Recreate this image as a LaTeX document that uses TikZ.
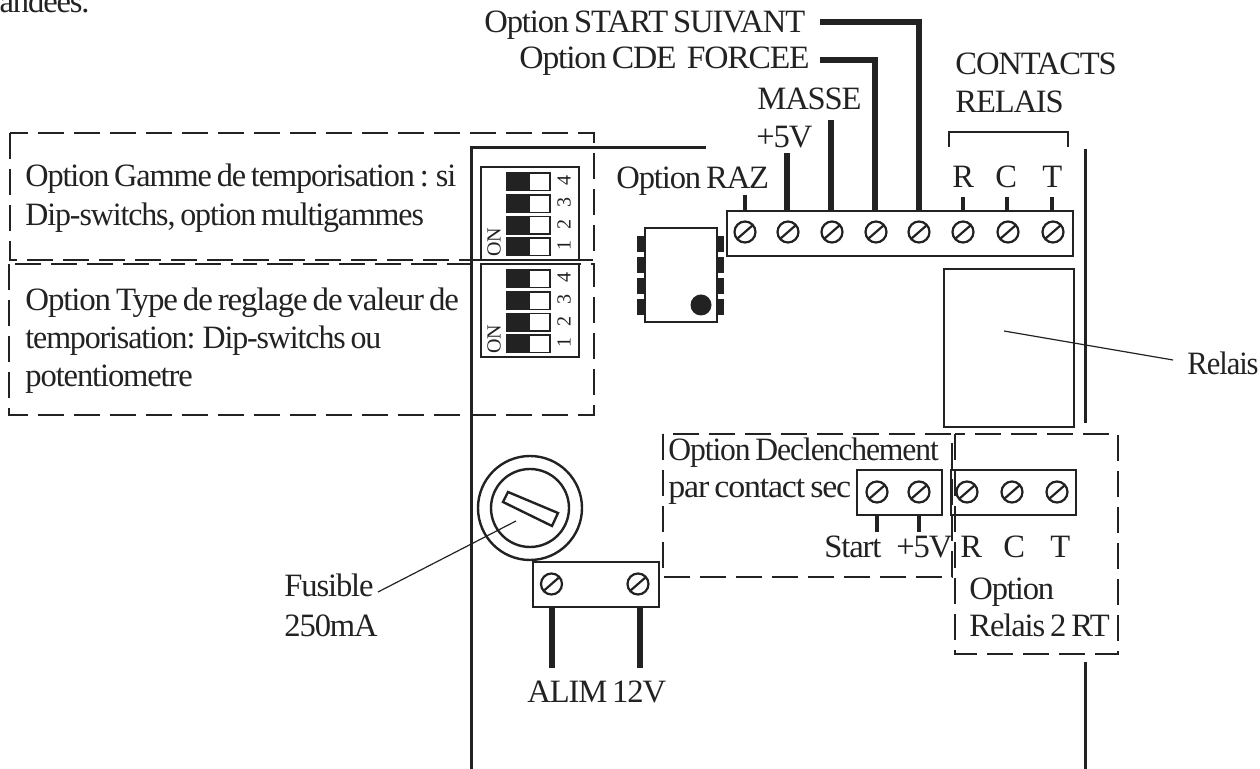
\documentclass[tikz,border=0pt]{standalone}
\usepackage{fontspec}
\setmainfont[LetterSpace=-3.5,WordSpace=0.7]{Liberation Serif}
\usepackage{xcolor}
\usetikzlibrary{positioning,calc}

\definecolor{inkc}{HTML}{222222}
\tikzset{
    lab/.style={anchor=base west,inner sep=0pt,text=inkc,font=\fontsize{16.3}{18}\selectfont},
    tiny/.style={inner sep=0pt,text=inkc,rotate=90,font=\fontsize{10}{12}\selectfont},
    board/.style={draw=inkc,line width=1.5pt},
    box/.style={draw=inkc,line width=1.2pt},
    wire/.style={draw=inkc,line width=2.6pt},
    stub/.style={draw=inkc,line width=2.4pt},
    lead/.style={draw=inkc,line width=0.6pt},
    optbox/.style={draw=inkc,line width=0.6pt,dash pattern=on 13pt off 5pt},
    screw/.style={draw=inkc,line width=1.1pt}
}
\newcommand{\vis}[2]{%
    \draw[screw] (#1,#2) circle (10.5);
    \draw[screw] ($(#1,#2)+(-8,7)$) -- ($(#1,#2)+(8,-7)$);
}

\begin{document}
\begin{tikzpicture}[x=0.5pt,y=-0.5pt]
    \useasboundingbox (0,0) rectangle (1260,769);

    % Board outline
    \draw[board] (471,769) -- (471,148) -- (706,148);
    \draw[board] (1085,149) -- (1085,423);
    \draw[board] (1085,662) -- (1085,769);

    % Option boxes
    \draw[optbox] (10,133) rectangle (594,260);
    \draw[optbox] (9,264) rectangle (594,415);
    \draw[optbox] (663,434) rectangle (952,577);
    \draw[optbox] (955,434) rectangle (1118,654);

    % Dip switches
    \foreach \oy in {0,97} {
        \draw[box] (481,167+\oy) rectangle (579,260+\oy);
        \foreach \sy/\num in {173/4,195/3,216.5/2,238/1} {
            \fill[inkc] (507,\sy+\oy) rectangle (530,\sy+17.5+\oy);
            \draw[inkc,line width=0.9pt] (507,\sy+\oy) rectangle (550,\sy+17.5+\oy);
            \node[tiny] (dip\num-\oy) at (564,\sy+8+\oy) {\num};
        }
        \node[tiny] (on-\oy) at (494,242+\oy) {ON};
    }

    % Circuit with pins
    \draw[box] (645,228) rectangle (717,322);
    \foreach \py in {236,257,278,299} {
        \fill[inkc] (637,\py) rectangle (645,\py+16);
        \fill[inkc] (717,\py) rectangle (724,\py+16);
    }
    \fill[inkc] (701,305) circle (10.5);

    % Main terminal strip
    \draw[box] (727,211) rectangle (1073,256);
    \foreach \x in {745,788,832,876,919,963,1008,1053} {
        \vis{\x}{232}
    }
    \draw[stub] (745,195) -- (745,211);
    \draw[wire] (787,153) -- (787,211);
    \draw[wire] (831,120) -- (831,211);
    \draw[wire] (820,60) -- (875,60) -- (875,211);
    \draw[wire] (820,22) -- (919,22) -- (919,211);
    \draw[stub] (963,197) -- (963,211);
    \draw[stub] (1007,197) -- (1007,211);
    \draw[stub] (1052,197) -- (1052,211);

    % Contacts bracket
    \draw[inkc,line width=1pt] (949,147) -- (949,132) -- (1068,132) -- (1068,147);

    % Relay
    \draw[box] (944,269) rectangle (1074,427);
    \draw[lead] (1004,331) -- (1173,360);

    % Fuse
    \draw[box] (530,508) circle (52);
    \draw[box] (530,508) circle (39);
    \draw[box] (508,492) -- (558,513) -- (552,526) -- (503,502) -- cycle;
    \draw[lead] (516,521) -- (378,592);

    % Power terminal
    \draw[box] (533,562) rectangle (659,607);
    \vis{551.5}{584}
    \vis{638}{584}
    \draw[wire] (552,607) -- (552,668);
    \draw[wire] (640,607) -- (640,668);

    % Start terminal
    \draw[box] (857,470) rectangle (942,515);
    \vis{877}{492}
    \vis{919}{492}
    \draw[stub] (877,515) -- (877,532);
    \draw[stub] (919,515) -- (919,532);

    % Second relay terminal
    \draw[box] (951,470) rectangle (1076,515);
    \foreach \x in {967,1012,1057} {
        \vis{\x}{492}
    }

    % Labels
    \node[lab,anchor=base east] (cut) at (90,13) {mandees.};
    \node[lab] (start) at (484,33) {Option START SUIVANT};
    \node[lab,xscale=1.03] (cde) at (519,69) {Option CDE~ FORCEE};
    \node[lab] (masse) at (757,110) {MASSE};
    \node[lab] (plus) at (756,148) {+5V};
    \node[lab] (raz) at (616,189) {Option RAZ};
    \node[lab] (contacts) at (955,75) {CONTACTS};
    \node[lab] (relais) at (955,113) {RELAIS};
    \node[lab] (r) at (952,188) {R};
    \node[lab] (c) at (995,188) {C};
    \node[lab] (t) at (1042,188) {T};
    \node[lab,xscale=0.99] (gam) at (25,187) {Option Gamme de temporisation : si};
    \node[lab,xscale=0.98] (gamb) at (25,226) {Dip-switchs, option multigammes};
    \node[lab,xscale=1.01] (typ) at (25,311) {Option Type de reglage de valeur de};
    \node[lab,xscale=0.98] (typb) at (25,349) {temporisation: Dip-switchs ou};
    \node[lab] (typc) at (25,387) {potentiometre};
    \node[lab,xscale=0.94] (rel) at (1187,375) {Relais};
    \node[lab,xscale=0.97] (decl) at (668,461) {Option Declenchement};
    \node[lab,xscale=1.04] (par) at (668,498) {par contact sec};
    \node[lab] (st) at (824,558) {Start};
    \node[lab] (pl) at (896,558) {+5V};
    \node[lab] (rb) at (960,558) {R};
    \node[lab] (cb) at (1003,558) {C};
    \node[lab] (tb) at (1050,558) {T};
    \node[lab] (opt) at (969,600) {Option};
    \node[lab] (rrt) at (969,637) {Relais 2 RT};
    \node[lab] (fus) at (284,597) {Fusible};
    \node[lab] (ma) at (284,637) {250mA};
    \node[lab] (alim) at (527,703) {ALIM 12V};
\end{tikzpicture}
\end{document}
